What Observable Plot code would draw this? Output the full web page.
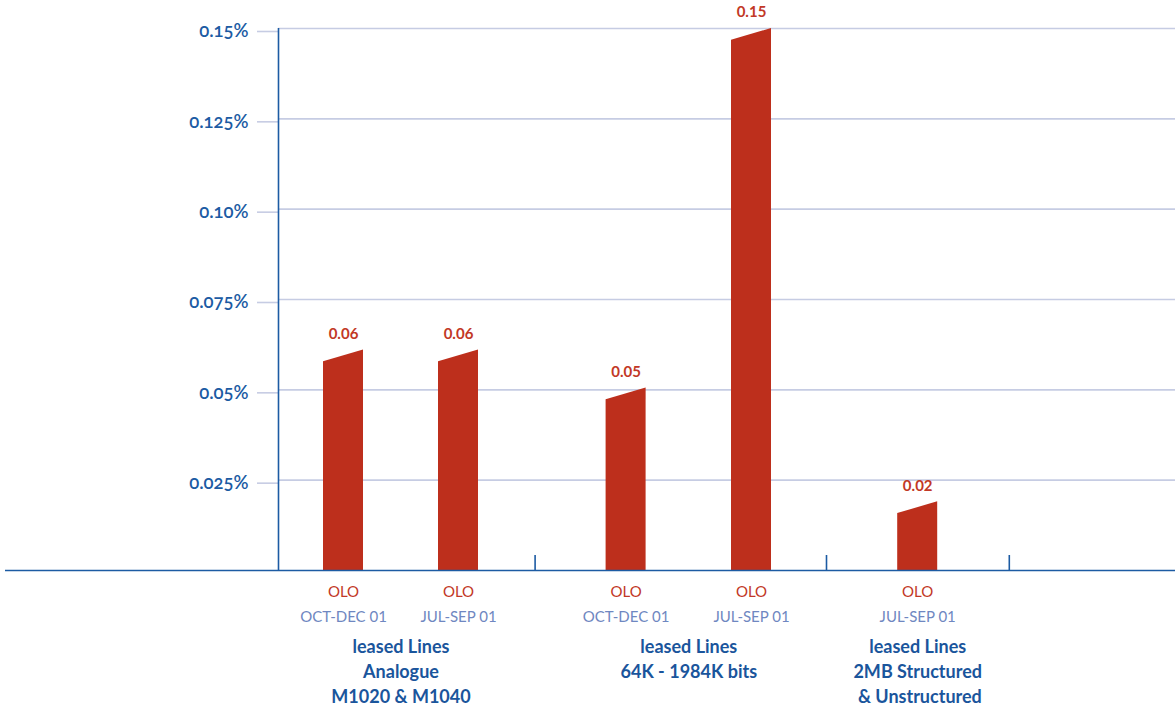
<!DOCTYPE html>
<html>
<head>
<meta charset="utf-8">
<script src="https://cdn.jsdelivr.net/npm/d3@7"></script>
<script src="https://cdn.jsdelivr.net/npm/@observablehq/plot@0.6"></script>
<style>
  body { margin: 0; background: #ffffff; }
  #chart svg { display: block; }
</style>
</head>
<body>
<div id="chart"></div>
<script>
// ---- data ----
const series = ["OLO", "OLO", "OLO", "OLO", "OLO"];
const periods = ["OCT-DEC 01", "JUL-SEP 01", "OCT-DEC 01", "JUL-SEP 01", "JUL-SEP 01"];
const values = [0.061, 0.061, 0.0505, 0.15, 0.019];
const groupOf = [0, 0, 1, 1, 2];
const groupLabels = [
  ["leased Lines", "Analogue", "M1020 & M1040"],
  ["leased Lines", "64K - 1984K bits"],
  ["leased Lines", "2MB Structured", "\u00a0& Unstructured"]
];
const tickValues = [0.025, 0.05, 0.075, 0.1, 0.125, 0.15];
const tickLabels = ["0.025%", "0.05%", "0.075%", "0.10%", "0.125%", "0.15%"];

// ---- layout (not data) ----
const W = 1175, H = 710;
const marginLeft = 278, marginTop = 28, marginBottom = 140;
const unit = 40;                         // px per x unit (= one bar width)
const xMax = (W - marginLeft) / unit;
const barSlot = [1.625, 4.5, 8.69, 11.825, 15.98];
const dividerSlot = [6.415, 13.7, 18.27];
const baselineStart = -(marginLeft - 5) / unit;
const pxPerY = (H - marginTop - marginBottom) / 0.15;
const slant = 11.7 / pxPerY;
const tickLen = 15 / pxPerY;

const red = "#bd2f1c", redText = "#c23826", periodCol = "#6f87c1";
const blue = "#1c5ba3", lav = "#c6cce3", groupCol = "#1a559c";

const bars = values.map((v, i) => ({i, x: barSlot[i], v, series: series[i], period: periods[i], group: groupOf[i]}));
const outline = bars.flatMap(b => [
  {i: b.i, x: b.x - 0.5, y: b.v - slant},
  {i: b.i, x: b.x + 0.5, y: b.v}
]);
const groups = groupLabels.map((lines, g) => ({
  x: d3.mean(bars.filter(b => b.group === g), b => b.x),
  lines
}));
const labelMap = new Map(tickValues.map((t, i) => [t, tickLabels[i]]));

const groupLineMarks = [0, 1, 2].map(k =>
  Plot.text(groups.filter(g => g.lines[k]), {
    x: "x", text: g => g.lines[k], frameAnchor: "bottom", dy: 77 + 25 * k,
    lineAnchor: "middle", fill: groupCol, fontWeight: "bold", fontSize: 18
  })
);

const chart = Plot.plot({
  width: W, height: H,
  marginLeft, marginRight: 0, marginTop, marginBottom,
  x: {type: "linear", domain: [0, xMax], axis: null},
  y: {domain: [0, 0.15], axis: null},
  style: {fontFamily: "Lato, 'Open Sans', sans-serif", background: "#ffffff", overflow: "visible"},
  marks: [
    Plot.gridY(tickValues, {stroke: lav, strokeOpacity: 1, strokeWidth: 1.6}),
    Plot.axisY(tickValues, {
      tickSize: 21, tickPadding: 9, stroke: lav, strokeWidth: 1.6, fill: blue,
      tickFormat: d => labelMap.get(d), fontSize: 18.5, fontWeight: 600, dy: 3, fontVariant: "oldstyle-nums"
    }),
    Plot.areaY(outline, {x: "x", y: "y", z: "i", fill: red, curve: "linear"}),
    Plot.ruleX([0], {y1: 0, y2: 0.15, stroke: blue, strokeWidth: 1.6}),
    Plot.ruleY([0], {x1: baselineStart, x2: xMax, stroke: blue, strokeWidth: 1.6}),
    Plot.ruleX(dividerSlot, {y1: 0, y2: tickLen, stroke: blue, strokeWidth: 1.6}),
    Plot.text(bars, {
      x: "x", y: "v", text: d => d.v.toFixed(2), dy: -16,
      fill: redText, fontWeight: "bold", fontSize: 15, lineAnchor: "middle"
    }),
    Plot.text(bars, {
      x: "x", text: "series", frameAnchor: "bottom", dy: 22,
      lineAnchor: "middle", fill: redText, fontSize: 15, letterSpacing: 0.5
    }),
    Plot.text(bars, {
      x: "x", text: "period", frameAnchor: "bottom", dy: 47,
      lineAnchor: "middle", fill: periodCol, fontSize: 15
    }),
    ...groupLineMarks
  ]
});
document.getElementById("chart").appendChild(chart);
</script>
</body>
</html>
